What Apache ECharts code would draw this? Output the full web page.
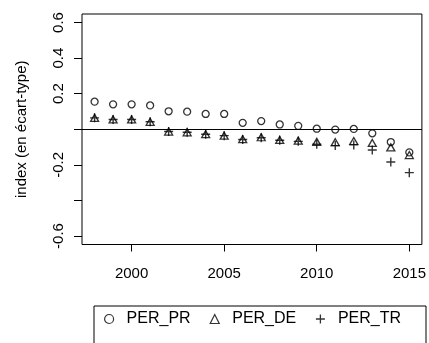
<!DOCTYPE html>
<html>
<head>
<meta charset="utf-8">
<script src="https://cdn.jsdelivr.net/npm/echarts@6/dist/echarts.min.js"></script>
<style>html,body{margin:0;padding:0;background:#fff;}#c{width:429px;height:343px;}</style>
</head>
<body>
<div id="c"></div>
<script>
var years = [1998,1999,2000,2001,2002,2003,2004,2005,2006,2007,2008,2009,2010,2011,2012,2013,2014,2015];
var PER_PR = [0.155,0.140,0.140,0.134,0.101,0.099,0.086,0.086,0.036,0.046,0.027,0.019,0.003,-0.002,0.002,-0.023,-0.072,-0.130];
var PER_DE = [0.064,0.055,0.055,0.042,-0.013,-0.017,-0.028,-0.036,-0.056,-0.045,-0.060,-0.064,-0.071,-0.073,-0.066,-0.077,-0.102,-0.145];
var PER_TR = [0.064,0.055,0.055,0.042,-0.013,-0.017,-0.028,-0.036,-0.058,-0.048,-0.062,-0.068,-0.084,-0.092,-0.088,-0.117,-0.184,-0.244];
var xTicks = [2000,2005,2010,2015];
var yTicks = [-0.6,-0.4,-0.2,0,0.2,0.4,0.6];
var yLabels = [-0.6,-0.2,0.2,0.4,0.6];

function pairs(v){ return years.map(function(y,i){ return [y, v[i]]; }); }
var FONT = 'Liberation Sans';
var plusPath = 'path://M5,0L5,10M0,5L10,5';

var chart = echarts.init(document.getElementById('c'), null, {renderer:'canvas'});
chart.setOption({
  animation: false,
  backgroundColor: '#fff',
  textStyle: {fontFamily: FONT},
  grid: {left: 82, top: 14, right: 6, bottom: 98.5, show: true, borderColor: '#000', borderWidth: 1, backgroundColor: 'transparent'},
  graphic: [{
    type: 'rect', left: 91.5, top: 303.5, silent: true,
    shape: {width: 332, height: 60},
    style: {fill: 'none', stroke: '#000', lineWidth: 1}
  }],
  xAxis: {
    type: 'value', min: 1997.32, max: 2015.68,
    axisLine: {show: false, onZero: false},
    axisTick: {show: true, length: 7, customValues: xTicks, lineStyle: {color: '#000', width: 1}},
    axisLabel: {show: true, customValues: xTicks, margin: 22, color: '#000', fontSize: 15, fontFamily: FONT,
      formatter: function(v){ return String(Math.round(v)); }},
    splitLine: {show: false}
  },
  yAxis: {
    type: 'value', min: -0.648, max: 0.648,
    name: 'index (en \u00e9cart-type)', nameLocation: 'middle', nameGap: 53,
    nameTextStyle: {color: '#000', fontSize: 15, fontFamily: FONT},
    axisLine: {show: false, onZero: false},
    axisTick: {show: true, length: 8, customValues: yTicks, lineStyle: {color: '#000', width: 1}},
    axisLabel: {show: true, customValues: yLabels, rotate: 90, margin: 16, color: '#000', fontSize: 15, fontFamily: FONT},
    splitLine: {show: false}
  },
  legend: {
    left: 92, top: 304, orient: 'horizontal',
    borderWidth: 0, padding: [7, 22, 4, 12],
    itemWidth: 9, itemHeight: 9, itemGap: 19,
    textStyle: {color: '#000', fontSize: 16, fontFamily: FONT, padding: [0, 0, 0, 8]},
    data: [
      {name: 'PER_PR', icon: 'circle', itemStyle: {color: 'transparent', borderColor: '#000', borderWidth: 1.2}},
      {name: 'PER_DE', icon: 'triangle', itemStyle: {color: 'transparent', borderColor: '#000', borderWidth: 1.2}},
      {name: 'PER_TR', icon: plusPath, itemStyle: {color: 'transparent', borderColor: '#000', borderWidth: 1.3}}
    ]
  },
  series: [
    {
      name: 'PER_PR', type: 'scatter', data: pairs(PER_PR), symbol: 'circle', symbolSize: 7,
      itemStyle: {color: 'transparent', borderColor: '#000', borderWidth: 1.3},
      markLine: {silent: true, symbol: 'none', label: {show: false}, lineStyle: {color: '#000', width: 1.2, type: 'solid'}, data: [{yAxis: 0}]}
    },
    {
      name: 'PER_DE', type: 'scatter', data: pairs(PER_DE), symbol: 'triangle', symbolSize: [8, 7],
      itemStyle: {color: 'transparent', borderColor: '#000', borderWidth: 1.3}
    },
    {
      name: 'PER_TR', type: 'scatter', data: pairs(PER_TR), symbol: plusPath, symbolSize: 9,
      itemStyle: {color: 'transparent', borderColor: '#000', borderWidth: 1.4}
    }
  ]
});
</script>
</body>
</html>
